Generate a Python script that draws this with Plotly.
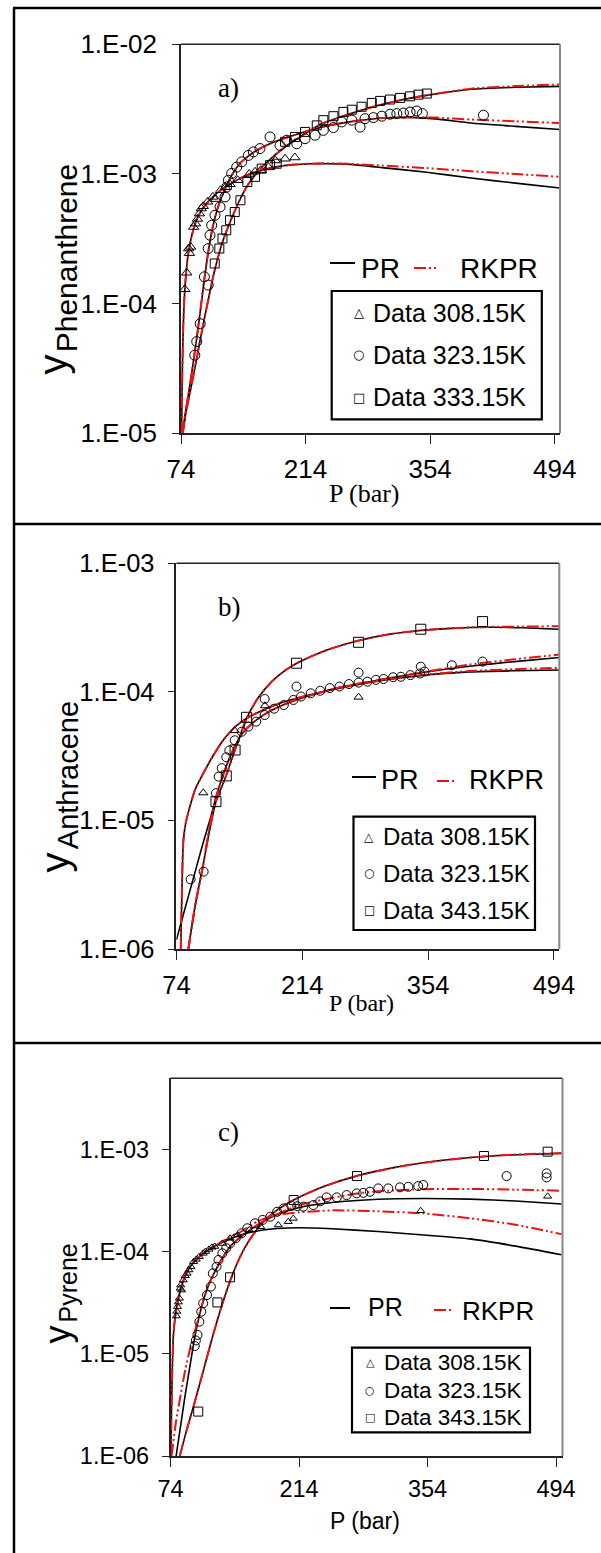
import plotly.graph_objects as go

W, H = 601, 1553
SANS = "Liberation Sans, Arial, sans-serif"
SERIF = "Liberation Serif, Times New Roman, serif"
GLYPH = "DejaVu Sans, sans-serif"

# ================= Panel a: Phenanthrene =================
a_tri_P = [78.3, 80.4, 82.6, 83.5, 84.8, 88.2, 90.4, 92.5, 94.7, 96.8, 99.0, 104.0, 109.8, 113.0,
           118.4, 124.0, 129.1, 137.8, 150.7, 157.2, 163.7, 172.3, 180.0, 191.0, 202.0]
a_tri_y = [1.29e-4, 1.73e-4, 2.66e-4, 2.45e-4, 2.74e-4, 3.9e-4, 4.14e-4, 4.5e-4, 4.95e-4, 5.41e-4, 5.64e-4, 6.1e-4,
           6.66e-4, 6.4e-4, 7.49e-4, 7.9e-4, 8.33e-4, 8.94e-4, 1.0e-3, 1.04e-3, 1.07e-3, 1.13e-3, 1.27e-3, 1.31e-3, 1.34e-3]
a_cir_P = [89.5, 91.7, 95.6, 100.3, 104.6, 104.6, 106.6, 108.5, 112.2, 117.9, 123.5, 125.4, 127.2, 131.0, 136.6,
           142.3, 149.7, 155.3, 162.8, 174.1, 185.3, 192.9, 204.1, 213.4, 224.7, 234.0, 245.3, 254.7, 266.0, 275.3,
           280.9, 290.2, 299.7, 309.0, 316.6, 324.0, 331.5, 339.0, 345.3, 414.0]
a_cir_y = [4.0e-5, 5.1e-5, 7.0e-5, 1.61e-4, 1.39e-4, 2.66e-4, 3.37e-4, 4.02e-4, 4.8e-4, 5.57e-4, 6.65e-4, 7.94e-4,
           8.94e-4, 1.01e-3, 1.13e-3, 1.24e-3, 1.39e-3, 1.48e-3, 1.57e-3, 1.93e-3, 1.66e-3, 1.82e-3, 1.71e-3, 1.87e-3,
           1.99e-3, 2.17e-3, 2.28e-3, 2.52e-3, 2.6e-3, 2.3e-3, 2.67e-3, 2.72e-3, 2.79e-3, 2.89e-3, 2.92e-3, 2.95e-3,
           3.0e-3, 3.06e-3, 2.92e-3, 2.84e-3]
a_sq_P = [111.9, 117.1, 120.6, 124.9, 129.1, 134.4, 140.8, 148.6, 157.2, 164.7, 174.1, 181.6, 191.0, 202.2, 213.4,
          226.6, 234.0, 245.3, 256.5, 266.0, 277.0, 288.4, 297.8, 309.0, 320.3, 331.5, 340.9, 350.3]
a_sq_y = [2.04e-4, 2.66e-4, 3.18e-4, 3.68e-4, 4.4e-4, 5.09e-4, 6.27e-4, 8.67e-4, 9.5e-4, 1.1e-3, 1.17e-3, 1.2e-3,
          1.77e-3, 1.93e-3, 2.11e-3, 2.37e-3, 2.6e-3, 2.79e-3, 3.01e-3, 3.13e-3, 3.3e-3, 3.53e-3, 3.66e-3, 3.75e-3,
          3.86e-3, 3.97e-3, 4.09e-3, 4.17e-3]

a_pr308_P = [74.6, 75.5, 76.5, 77.5, 78.5, 80, 82, 85, 88, 92, 96, 100, 110, 120, 130, 140, 150, 165, 180, 200,
             220, 240, 260, 300, 350, 400, 450, 500]
a_pr308_y = [1.0e-5, 3.0e-5, 6.5e-5, 1.0e-4, 1.35e-4, 1.8e-4, 2.4e-4, 3.1e-4, 3.75e-4, 4.5e-4, 5.1e-4, 5.6e-4,
             6.7e-4, 7.6e-4, 8.4e-4, 9.2e-4, 9.9e-4, 1.07e-3, 1.13e-3, 1.18e-3, 1.2e-3, 1.2e-3, 1.19e-3, 1.12e-3,
             1.03e-3, 9.3e-4, 8.5e-4, 7.8e-4]
a_rk308_y = [1.0e-5, 3.0e-5, 6.5e-5, 1.0e-4, 1.35e-4, 1.8e-4, 2.4e-4, 3.1e-4, 3.75e-4, 4.5e-4, 5.1e-4, 5.6e-4,
             6.7e-4, 7.6e-4, 8.4e-4, 9.2e-4, 9.9e-4, 1.07e-3, 1.13e-3, 1.18e-3, 1.2e-3, 1.21e-3, 1.2e-3, 1.16e-3,
             1.11e-3, 1.05e-3, 1.0e-3, 9.5e-4]
a_pr323_P = [75.5, 80, 85, 90, 95, 100, 105, 110, 115, 120, 125, 130, 140, 150, 165, 180, 200, 230, 260, 300, 330,
             360, 400, 450, 500]
a_pr323_y = [1.0e-5, 1.6e-5, 2.6e-5, 4.5e-5, 8.0e-5, 1.5e-4, 2.6e-4, 4.0e-4, 5.4e-4, 6.7e-4, 8.0e-4, 9.5e-4,
             1.2e-3, 1.38e-3, 1.6e-3, 1.78e-3, 1.98e-3, 2.28e-3, 2.5e-3, 2.7e-3, 2.73e-3, 2.66e-3, 2.47e-3,
             2.33e-3, 2.2e-3]
a_rk323_y = [1.0e-5, 1.6e-5, 2.6e-5, 4.5e-5, 8.0e-5, 1.5e-4, 2.6e-4, 4.0e-4, 5.4e-4, 6.7e-4, 8.0e-4, 9.5e-4,
             1.2e-3, 1.38e-3, 1.6e-3, 1.78e-3, 1.98e-3, 2.28e-3, 2.5e-3, 2.7e-3, 2.74e-3, 2.72e-3, 2.63e-3,
             2.55e-3, 2.47e-3]
a_pr333_P = [76, 80, 85, 90, 95, 100, 105, 110, 115, 120, 125, 130, 140, 150, 160, 170, 190, 210, 230, 260, 290,
             320, 350, 400, 450, 500]
a_pr333_y = [1.0e-5, 1.5e-5, 2.2e-5, 3.3e-5, 5.0e-5, 7.5e-5, 1.1e-4, 1.6e-4, 2.2e-4, 2.9e-4, 3.6e-4, 4.4e-4,
             6.3e-4, 8.4e-4, 1.03e-3, 1.22e-3, 1.6e-3, 1.97e-3, 2.4e-3, 2.85e-3, 3.3e-3, 3.7e-3, 4.04e-3, 4.5e-3,
             4.66e-3, 4.74e-3]
a_rk333_y = [1.0e-5, 1.5e-5, 2.2e-5, 3.3e-5, 5.0e-5, 7.5e-5, 1.1e-4, 1.6e-4, 2.2e-4, 2.9e-4, 3.6e-4, 4.4e-4,
             6.3e-4, 8.4e-4, 1.03e-3, 1.22e-3, 1.6e-3, 1.97e-3, 2.4e-3, 2.85e-3, 3.3e-3, 3.7e-3, 4.05e-3, 4.55e-3,
             4.76e-3, 4.9e-3]

# ================= Panel b: Anthracene =================
b_tri_P = [103.9, 138.9, 172.5, 276.7]
b_tri_y = [1.64e-5, 5.0e-5, 7.8e-5, 9.1e-5]
b_cir_P = [89.8, 104.3, 118.0, 121.0, 124.4, 129.5, 132.9, 138.9, 146.6, 154.2, 162.8, 172.2, 172.2, 182.8, 193.5,
           204.2, 207.6, 212.7, 223.4, 234.0, 244.7, 255.4, 266.0, 276.7, 276.7, 286.5, 295.9, 304.5, 315.1, 323.7,
           334.3, 345.0, 345.9, 350.1, 380.4, 414.6]
b_cir_y = [3.48e-6, 4.0e-6, 1.63e-5, 2.19e-5, 2.55e-5, 3.1e-5, 3.5e-5, 4.2e-5, 4.9e-5, 5.37e-5, 5.87e-5, 6.6e-5,
           8.8e-5, 7.4e-5, 7.9e-5, 8.65e-5, 1.1e-4, 9.2e-5, 9.75e-5, 1.02e-4, 1.07e-4, 1.1e-4, 1.15e-4, 1.18e-4,
           1.41e-4, 1.2e-4, 1.24e-4, 1.26e-4, 1.3e-4, 1.31e-4, 1.35e-4, 1.39e-4, 1.57e-4, 1.44e-4, 1.61e-4, 1.72e-4]
b_sq_P = [118.0, 129.5, 139.3, 152.1, 207.6, 276.7, 345.9, 414.6]
b_sq_y = [1.4e-5, 2.22e-5, 3.53e-5, 6.34e-5, 1.67e-4, 2.43e-4, 3.07e-4, 3.52e-4]

b_pr308_P = [78.8, 80.2, 81.0, 81.8, 84.3, 89, 94.7, 104, 115, 126, 140, 155, 170, 190, 210, 250, 300, 350, 400,
             450, 500]
b_pr308_y = [1e-6, 2.9e-6, 5.2e-6, 7e-6, 9.5e-6, 1.28e-5, 1.73e-5, 2.33e-5, 3.2e-5, 4.2e-5, 5.4e-5, 6.4e-5, 7.2e-5,
             8.2e-5, 9.0e-5, 1.05e-4, 1.22e-4, 1.35e-4, 1.43e-4, 1.46e-4, 1.48e-4]
b_rk308_y = [1e-6, 2.9e-6, 5.2e-6, 7e-6, 9.5e-6, 1.28e-5, 1.73e-5, 2.33e-5, 3.2e-5, 4.2e-5, 5.4e-5, 6.4e-5, 7.2e-5,
             8.2e-5, 9.0e-5, 1.05e-4, 1.22e-4, 1.36e-4, 1.45e-4, 1.5e-4, 1.54e-4]
b_pr323_P = [74, 90, 104, 112, 119, 130, 140, 150, 165, 180, 200, 230, 260, 300, 350, 400, 450, 500]
b_pr323_y = [1.18e-6, 3.0e-6, 6.8e-6, 1.05e-5, 1.6e-5, 2.7e-5, 3.9e-5, 5.0e-5, 6.2e-5, 7.2e-5, 8.3e-5, 9.7e-5,
             1.1e-4, 1.24e-4, 1.42e-4, 1.58e-4, 1.72e-4, 1.85e-4]
b_rk323_P = [87.3, 95, 104, 112, 119, 130, 140, 150, 165, 180, 200, 230, 260, 300, 350, 400, 450, 500]
b_rk323_y = [1e-6, 2.2e-6, 4.6e-6, 1.0e-5, 1.6e-5, 2.7e-5, 3.9e-5, 5.0e-5, 6.2e-5, 7.2e-5, 8.3e-5, 9.7e-5,
             1.1e-4, 1.24e-4, 1.43e-4, 1.63e-4, 1.79e-4, 1.95e-4]
b_pr343_P = [87.3, 95, 104, 111, 118, 129, 139, 152, 165, 180, 195, 210, 240, 276, 310, 345, 380, 420, 460, 500]
b_pr343_y = [1e-6, 2.2e-6, 4.6e-6, 8.5e-6, 1.4e-5, 2.2e-5, 3.5e-5, 6.2e-5, 9.0e-5, 1.2e-4, 1.47e-4, 1.7e-4,
             2.1e-4, 2.5e-4, 2.8e-4, 3.0e-4, 3.12e-4, 3.18e-4, 3.15e-4, 3.07e-4]
b_rk343_y = [1e-6, 2.2e-6, 4.6e-6, 8.5e-6, 1.4e-5, 2.2e-5, 3.5e-5, 6.2e-5, 9.0e-5, 1.2e-4, 1.47e-4, 1.7e-4,
             2.1e-4, 2.5e-4, 2.8e-4, 3.0e-4, 3.13e-4, 3.2e-4, 3.22e-4, 3.24e-4]

# ================= Panel c: Pyrene =================
c_tri_P = [80.3, 80.8, 81.5, 82.5, 83.6, 84.4, 85.0, 86.0, 87.8, 90.0, 92.0, 94.0, 96.1, 99.1, 102.0, 105.3, 109.5,
           112.0, 115.8, 119.0, 122.1, 130.4, 138.8, 147.1, 159.7, 172.2, 191.3, 202.2, 207.7, 346.5, 484.8]
c_tri_y = [2.34e-5, 2.6e-5, 2.89e-5, 3.2e-5, 3.49e-5, 4.37e-5, 4.7e-5, 4.2e-5, 5.27e-5, 5.8e-5, 6.12e-5, 6.6e-5,
           7.11e-5, 7.96e-5, 8.4e-5, 8.91e-5, 9.61e-5, 1.0e-4, 1.05e-4, 1.1e-4, 1.12e-4, 1.2e-4, 1.35e-4, 1.45e-4,
           1.63e-4, 1.75e-4, 1.82e-4, 1.96e-4, 2.11e-4, 2.51e-4, 3.47e-4]
c_cir_P = [100.3, 101.5, 103.3, 105.3, 107.4, 109.5, 113.7, 117.9, 120.0, 124.1, 126.2, 130.4, 134.6, 138.8, 145.0,
           151.3, 157.6, 165.9, 174.3, 182.7, 190.0, 197.3, 205.6, 212.0, 218.6, 229.5, 237.0, 244.0, 255.0, 265.8,
           276.7, 284.0, 291.2, 300.3, 311.2, 323.9, 333.0, 343.8, 349.3, 440.1, 483.7, 483.7]
c_cir_y = [1.19e-5, 1.35e-5, 1.53e-5, 2.06e-5, 2.58e-5, 3.12e-5, 3.76e-5, 4.54e-5, 6.12e-5, 7.11e-5, 8.28e-5,
           9.62e-5, 1.08e-4, 1.2e-4, 1.35e-4, 1.51e-4, 1.69e-4, 1.89e-4, 2.04e-4, 2.19e-4, 2.45e-4, 2.65e-4, 2.8e-4,
           2.78e-4, 2.75e-4, 2.85e-4, 3.1e-4, 3.39e-4, 3.39e-4, 3.57e-4, 3.71e-4, 3.75e-4, 3.85e-4, 4.15e-4, 4.15e-4,
           4.25e-4, 4.3e-4, 4.37e-4, 4.48e-4, 5.48e-4, 5.82e-4, 5.32e-4]
c_sq_P = [104.1, 125.0, 138.8, 208.1, 277.1, 415.4, 484.8]
c_sq_y = [2.72e-6, 3.18e-5, 5.6e-5, 3.19e-4, 5.48e-4, 8.61e-4, 9.49e-4]

c_pr308_P = [74.3, 75, 76, 77, 79, 82, 86, 90, 95, 100, 110, 120, 135, 150, 170, 190, 214, 250, 300, 350, 400, 450, 500]
c_pr308_y = [1e-6, 3e-6, 8e-6, 1.5e-5, 2.3e-5, 3.3e-5, 4.6e-5, 5.8e-5, 7.0e-5, 8.0e-5, 9.6e-5, 1.1e-4, 1.28e-4,
             1.45e-4, 1.6e-4, 1.68e-4, 1.71e-4, 1.67e-4, 1.57e-4, 1.45e-4, 1.33e-4, 1.13e-4, 9.3e-5]
c_rk308_y = [1e-6, 3e-6, 8e-6, 1.5e-5, 2.3e-5, 3.3e-5, 4.6e-5, 5.8e-5, 7.0e-5, 8.0e-5, 9.6e-5, 1.1e-4, 1.33e-4,
             1.55e-4, 2.0e-4, 2.28e-4, 2.42e-4, 2.53e-4, 2.48e-4, 2.36e-4, 2.12e-4, 1.83e-4, 1.48e-4]
c_pr323_P = [80, 85, 90, 95, 100, 105, 110, 115, 120, 130, 140, 155, 170, 190, 214, 250, 300, 350, 400, 450, 500]
c_pr323_y = [1e-6, 2e-6, 4e-6, 7.5e-6, 1.4e-5, 2.3e-5, 3.4e-5, 4.6e-5, 5.8e-5, 8.5e-5, 1.15e-4, 1.5e-4, 1.85e-4,
             2.3e-4, 2.7e-4, 3.02e-4, 3.25e-4, 3.3e-4, 3.26e-4, 3.12e-4, 2.92e-4]
c_rk323_P = [75, 80, 85, 90, 95, 100, 105, 110, 115, 120, 130, 140, 155, 170, 190, 214, 250, 277, 300, 350, 400,
             450, 500]
c_rk323_y = [1e-6, 2.2e-6, 4e-6, 7e-6, 1.1e-5, 1.6e-5, 2.4e-5, 3.4e-5, 4.6e-5, 5.8e-5, 8.5e-5, 1.15e-4, 1.5e-4,
             1.85e-4, 2.32e-4, 2.85e-4, 3.35e-4, 3.7e-4, 3.88e-4, 4.08e-4, 4.1e-4, 4.03e-4, 3.94e-4]
c_pr343_P = [84, 90, 100, 110, 120, 130, 140, 150, 160, 175, 190, 208, 240, 277, 320, 360, 415, 450, 500]
c_pr343_y = [1e-6, 1.6e-6, 3.3e-6, 7e-6, 1.5e-5, 3.0e-5, 5.5e-5, 9.0e-5, 1.3e-4, 1.95e-4, 2.55e-4, 3.2e-4,
             4.3e-4, 5.5e-4, 6.7e-4, 7.6e-4, 8.5e-4, 8.85e-4, 9.1e-4]
c_rk343_y = [1e-6, 1.6e-6, 3.3e-6, 7e-6, 1.5e-5, 3.0e-5, 5.5e-5, 9.0e-5, 1.3e-4, 1.95e-4, 2.55e-4, 3.2e-4,
             4.3e-4, 5.5e-4, 6.7e-4, 7.6e-4, 8.52e-4, 8.9e-4, 9.2e-4]

x_tickvals = [74, 214, 354, 494]
x_ticktext = ["74", "214", "354", "494"]
legend_labels = ["Data 308.15K", "Data 323.15K", "Data 343.15K"]
legend_labels_a = ["Data 308.15K", "Data 323.15K", "Data 333.15K"]
legend_glyphs = ["\u25B3", "\u25CB", "\u25A1"]
y_title_subs = ["Phenanthrene", "Anthracene", "Pyrene"]

RED = "#ee1111"
RED_DASH = "12px,3px,2px,3px,2px,3px"

fig = go.Figure()


def add_panel(ax, curves, data):
    xa = "x" if ax == 1 else "x%d" % ax
    ya = "y" if ax == 1 else "y%d" % ax
    for P, y in curves["pr"]:
        fig.add_trace(go.Scatter(x=P, y=y, mode="lines", line=dict(color="black", width=1.6, shape="spline",
                                 smoothing=0.6), xaxis=xa, yaxis=ya, showlegend=False, hoverinfo="skip"))
    for P, y in curves["rk"]:
        fig.add_trace(go.Scatter(x=P, y=y, mode="lines", line=dict(color=RED, width=2, dash=RED_DASH,
                                 shape="spline", smoothing=0.6), xaxis=xa, yaxis=ya, showlegend=False,
                                 hoverinfo="skip"))
    for (P, y), sym, sz in data:
        fig.add_trace(go.Scatter(x=P, y=y, mode="markers",
                                 marker=dict(symbol=sym, size=sz, color="black", line=dict(color="black", width=1)),
                                 xaxis=xa, yaxis=ya, showlegend=False, hoverinfo="skip"))


add_panel(1, {"pr": [(a_pr308_P, a_pr308_y), (a_pr323_P, a_pr323_y), (a_pr333_P, a_pr333_y)],
              "rk": [(a_pr308_P, a_rk308_y), (a_pr323_P, a_rk323_y), (a_pr333_P, a_rk333_y)]},
          [((a_tri_P, a_tri_y), "triangle-up-open", 9), ((a_cir_P, a_cir_y), "circle-open", 10),
           ((a_sq_P, a_sq_y), "square-open", 9)])
add_panel(2, {"pr": [(b_pr308_P, b_pr308_y), (b_pr323_P, b_pr323_y), (b_pr343_P, b_pr343_y)],
              "rk": [(b_pr308_P, b_rk308_y), (b_rk323_P, b_rk323_y), (b_pr343_P, b_rk343_y)]},
          [((b_tri_P, b_tri_y), "triangle-up-open", 8), ((b_cir_P, b_cir_y), "circle-open", 9),
           ((b_sq_P, b_sq_y), "square-open", 10)])
add_panel(3, {"pr": [(c_pr308_P, c_pr308_y), (c_pr323_P, c_pr323_y), (c_pr343_P, c_pr343_y)],
              "rk": [(c_pr308_P, c_rk308_y), (c_rk323_P, c_rk323_y), (c_pr343_P, c_rk343_y)]},
          [((c_tri_P, c_tri_y), "triangle-up-open", 7), ((c_cir_P, c_cir_y), "circle-open", 9),
           ((c_sq_P, c_sq_y), "square-open", 9)])


def px(x):
    return x / W


def py(y):
    return 1 - y / H


def xaxis_cfg(dom, rng, fs, anchor, standoff):
    return dict(domain=dom, range=rng, anchor=anchor, automargin=False, showgrid=False, zeroline=False,
                showline=True, linecolor="#222", linewidth=1.6, ticks="outside", ticklen=9, tickwidth=1.3,
                tickcolor="#222", tickvals=x_tickvals, ticktext=x_ticktext, ticklabelstandoff=standoff,
                tickfont=dict(family=SANS, size=fs, color="black"), fixedrange=True)


def yaxis_cfg(dom, rng, vals, texts, fs, anchor, standoff):
    return dict(domain=dom, range=rng, type="log", anchor=anchor, automargin=False, showgrid=False,
                zeroline=False, showline=True, linecolor="#222", linewidth=1.6, ticks="outside", ticklen=7,
                tickwidth=1.3, tickcolor="#222", tickvals=vals, ticktext=texts, ticklabelstandoff=standoff,
                tickfont=dict(family=SANS, size=fs, color="black"), fixedrange=True)


dom = {
    1: ([px(181), px(560)], [py(433.3), py(44.3)]),
    2: ([px(176.4), px(559.3)], [py(949), py(563.3)]),
    3: ([px(170.6), px(562.5)], [py(1456), py(1078.3)]),
}

shapes = []
annotations = []

# outer frame lines of the three panels
shapes.append(dict(type="line", xref="paper", yref="paper", x0=px(14), x1=px(14), y0=py(8), y1=0,
                   line=dict(color="black", width=2.5)))
for yy in (8, 524, 1043):
    shapes.append(dict(type="line", xref="paper", yref="paper", x0=px(13), x1=1, y0=py(yy), y1=py(yy),
                       line=dict(color="black", width=2.5)))

# top / right frame of each plot area
for i in (1, 2, 3):
    xr = "x domain" if i == 1 else "x%d domain" % i
    yr = "y domain" if i == 1 else "y%d domain" % i
    shapes.append(dict(type="line", xref=xr, yref=yr, x0=0, x1=1, y0=1, y1=1, line=dict(color="#222", width=1.6)))
    shapes.append(dict(type="line", xref=xr, yref=yr, x0=1, x1=1, y0=0, y1=1, line=dict(color="#888", width=2)))


def ann(x, y, text, family, size, xanchor="center", angle=0, color="black"):
    annotations.append(dict(x=px(x), y=py(y), xref="paper", yref="paper", text=text, showarrow=False,
                            xanchor=xanchor, yanchor="middle", textangle=angle,
                            font=dict(family=family, size=size, color=color)))


# y titles: large "y" with a rotated subscript
ytitle_pos = [
    (52.5, 365, 40, 66.3, 258, 30),
    (54.5, 863, 40, 68.2, 775, 29),
    (56.5, 1335, 36, 67.5, 1283, 25),
]
for (yx, yy, ys, sx, sy, ss), sub in zip(ytitle_pos, y_title_subs):
    ann(yx, yy, "y", SANS, ys, angle=-90)
    ann(sx, sy, sub, SANS, ss, angle=-90)
# x titles
ann(364, 494, "P (bar)", SERIF, 26)
ann(361, 1003, "P (bar)", SERIF, 24)
ann(365, 1521, "P (bar)", SANS, 23)
# panel labels
ann(228, 88, "a)", SERIF, 27)
ann(229, 607, "b)", SERIF, 27)
ann(228, 1132, "c)", SERIF, 27)

# PR / RKPR keys
keys = [
    (330, 355, 263, 380, 268, 28, 414, 437, 268, 499, 268, 28),
    (352, 376, 777, 400, 780, 27, 437, 457, 781, 506, 780, 27),
    (330, 350, 1308, 385, 1307, 25, 434, 453, 1310, 498, 1311, 26),
]
for (lx0, lx1, ly, tx, ty, fs1, rx0, rx1, ry, t2x, t2y, fs2) in keys:
    shapes.append(dict(type="line", xref="paper", yref="paper", x0=px(lx0), x1=px(lx1), y0=py(ly), y1=py(ly),
                       line=dict(color="black", width=2)))
    shapes.append(dict(type="line", xref="paper", yref="paper", x0=px(rx0), x1=px(rx1), y0=py(ry), y1=py(ry),
                       line=dict(color=RED, width=2, dash=RED_DASH)))
    ann(tx, ty, "PR", SANS, fs1)
    ann(t2x, t2y, "RKPR", SANS, fs2)

# data legend boxes
boxes = [
    (331.7, 291, 541.8, 419.3, [313, 355, 397], 358.5, 371, 25, 13, legend_labels_a),
    (353.5, 816.7, 535, 930, [836.7, 873.3, 910], 369, 380.5, 24, 12, legend_labels),
    (352, 1347.7, 530, 1432.3, [1362.7, 1390, 1417.7], 370, 381.7, 22.5, 11, legend_labels),
]
for (bx0, by0, bx1, by1, rows, mx, tx, fs, gs, labels) in boxes:
    shapes.append(dict(type="rect", xref="paper", yref="paper", x0=px(bx0), x1=px(bx1), y0=py(by1), y1=py(by0),
                       line=dict(color="black", width=2.2), fillcolor="white", layer="above"))
    for r, g, lab in zip(rows, legend_glyphs, labels):
        ann(mx, r, g, GLYPH, gs)
        ann(tx, r, lab, SANS, fs, xanchor="left")

fig.update_layout(
    template="none",
    width=W, height=H, autosize=False, margin=dict(l=0, r=0, t=0, b=0, pad=0),
    paper_bgcolor="white", plot_bgcolor="white", showlegend=False,
    xaxis=xaxis_cfg(dom[1][0], [74, 500], 26, "y", 3),
    yaxis=yaxis_cfg(dom[1][1], [-5, -2], [1e-5, 1e-4, 1e-3, 1e-2], ["1.E-05", "1.E-04", "1.E-03", "1.E-02"], 26, "x", 10),
    xaxis2=xaxis_cfg(dom[2][0], [74, 500], 25.5, "y2", 4),
    yaxis2=yaxis_cfg(dom[2][1], [-6, -3], [1e-6, 1e-5, 1e-4, 1e-3], ["1.E-06", "1.E-05", "1.E-04", "1.E-03"], 25.5, "x2", 8),
    xaxis3=xaxis_cfg(dom[3][0], [74, 501], 23.5, "y3", 2),
    yaxis3=yaxis_cfg(dom[3][1], [-6, -2.305], [1e-6, 1e-5, 1e-4, 1e-3], ["1.E-06", "1.E-05", "1.E-04", "1.E-03"], 23.5, "x3", 8),
    shapes=shapes, annotations=annotations,
)

fig.write_html("out.html")
